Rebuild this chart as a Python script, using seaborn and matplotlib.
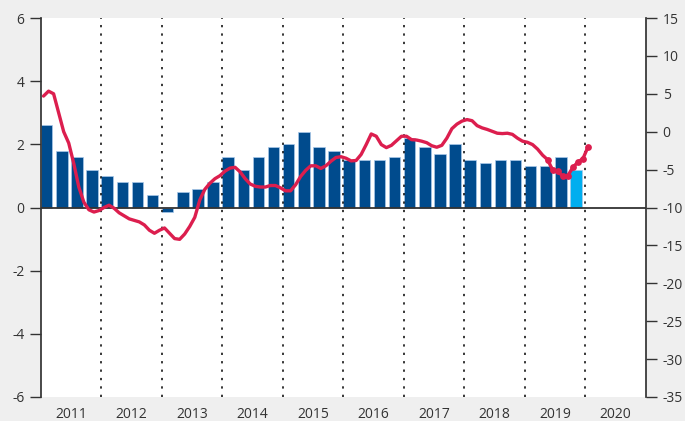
import pandas as pd
import seaborn as sns
import matplotlib.pyplot as plt

# quarterly bars (left axis), 2011Q1 - 2019Q4, last one is the latest estimate
years = list(range(2011, 2020))
bar_vals = [2.6, 1.8, 1.6, 1.2,
            1.0, 0.8, 0.8, 0.4,
            -0.15, 0.5, 0.6, 0.8,
            1.6, 1.2, 1.6, 1.9,
            2.0, 2.4, 1.9, 1.8,
            1.5, 1.5, 1.5, 1.6,
            2.2, 1.9, 1.7, 2.0,
            1.5, 1.4, 1.5, 1.5,
            1.3, 1.3, 1.6, 1.2]
bar_kind = ['actual'] * 35 + ['latest']

# monthly line (right axis), Jan 2011 - Jan 2020
line_vals = [4.7, 5.35, 5.0, 2.5, 0.0, -1.5, -4.2, -7.3, -9.3, -10.3, -10.6, -10.4,
             -10.0, -9.7, -10.1, -10.7, -11.1, -11.5, -11.7, -11.9, -12.3, -13.0, -13.4, -13.0,
             -12.7, -13.4, -14.1, -14.2, -13.5, -12.5, -11.3, -9.0, -7.6, -6.8, -6.2, -5.8,
             -5.2, -4.8, -4.7, -5.3, -6.2, -6.9, -7.2, -7.3, -7.3, -7.1, -7.1, -7.4,
             -7.8, -7.8, -7.0, -5.9, -5.1, -4.5, -4.5, -4.85, -4.5, -3.9, -3.4, -3.3,
             -3.5, -3.85, -3.8, -3.0, -1.7, -0.3, -0.6, -1.7, -2.1, -1.8, -1.2, -0.6,
             -0.6, -1.05, -1.1, -1.25, -1.45, -1.85, -2.05, -1.8, -0.85, 0.4, 1.0, 1.4,
             1.6, 1.45, 0.8, 0.5, 0.3, 0.05, -0.2, -0.25, -0.2, -0.35, -0.85, -1.25,
             -1.4, -1.7, -2.3, -3.1, -3.7, -5.1, -5.2, -5.9, -5.8, -4.7, -4.0, -3.55,
             -2.0]
n_marked = 9  # last months drawn with dots

year_labels = [str(y) for y in range(2011, 2021)]

quarter_pos = [y + q / 4 for y in years for q in range(4)]
month_pos = [2011 + (k + 0.5) / 12 for k in range(len(line_vals))]

bars = pd.DataFrame({'pos': quarter_pos, 'val': bar_vals, 'kind': bar_kind})
line = pd.DataFrame({'pos': month_pos, 'val': line_vals})

BLUE = '#004b8d'
LIGHT = '#00aeef'
RED = '#dc1e4e'
TXT = '#333333'

sns.set_theme(style='white')
plt.rcParams['font.family'] = ['Open Sans', 'DejaVu Sans']
plt.rcParams['axes.unicode_minus'] = False

fig, ax = plt.subplots(figsize=(6.85, 4.21), dpi=100)
fig.patch.set_facecolor('#efefef')
fig.subplots_adjust(left=41/685, right=646/685, top=1-18/421, bottom=1-397/421)

sns.barplot(data=bars, x='pos', y='val', hue='kind',
            palette={'actual': BLUE, 'latest': LIGHT}, saturation=1,
            native_scale=True, width=0.76, dodge=False, legend=False,
            edgecolor='#a9c9ea', linewidth=0.5, ax=ax, zorder=2)
# bars start at the beginning of each quarter
for p in ax.patches:
    p.set_x(p.get_x() + p.get_width() / 2)

for y in range(2012, 2021):
    ax.axvline(y, color='black', ls=(0, (1.5, 4)), lw=1.1, zorder=3)
ax.axhline(0, color=TXT, lw=1.3, zorder=4)

ax.set_xlim(2011, 2021)
ax.set_ylim(-6, 6)
ax.set_yticks(range(-6, 7, 2))
ax.set_xticks([y + 0.5 for y in range(2011, 2021)])
ax.set_xticklabels(year_labels)
ax.set_xlabel('')
ax.set_ylabel('')
ax.tick_params(axis='x', length=0, pad=7, labelsize=10, labelcolor=TXT)
ax.tick_params(axis='y', left=True, direction='out', length=8, width=1,
               color=TXT, labelcolor=TXT, labelsize=10, pad=4)
ax.spines[['top', 'right', 'bottom']].set_visible(False)
ax.spines['left'].set_color(TXT)

ax2 = ax.twinx()
sns.lineplot(data=line, x='pos', y='val', color=RED, lw=2.4, ax=ax2, zorder=5)
sns.scatterplot(data=line.tail(n_marked), x='pos', y='val', color=RED, s=24,
                linewidth=0, ax=ax2, zorder=6)
ax2.set_xlim(2011, 2021)
ax2.set_ylim(-35, 15)
ax2.set_yticks(range(-35, 16, 5))
ax2.set_xlabel('')
ax2.set_ylabel('')
ax2.tick_params(axis='y', right=True, direction='out', length=8, width=1,
                color=TXT, labelcolor=TXT, labelsize=10, pad=4)
ax2.spines[['top', 'left', 'bottom']].set_visible(False)
ax2.spines['right'].set_color(TXT)

plt.savefig('out.png', dpi=100, facecolor=fig.get_facecolor())
